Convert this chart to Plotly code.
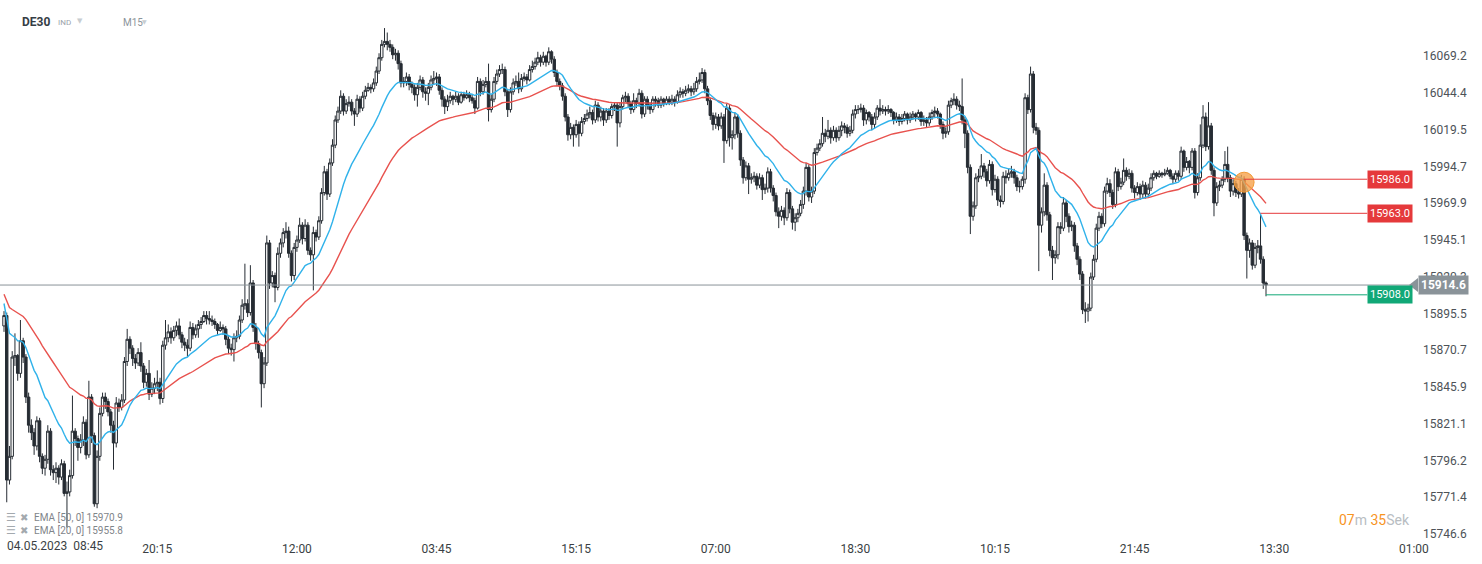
import plotly.graph_objects as go

# ---------------- data (DE30, M15) ----------------
first_open = 15887

closes = [
    # 0-82
    15894, 15783, 15799, 15866, 15867, 15855, 15877, 15866, 15839, 15820,
    15815, 15806, 15823, 15799, 15791, 15797, 15816, 15790, 15788, 15791,
    15785, 15794, 15774, 15775, 15786, 15816, 15811, 15805, 15810, 15822,
    15800, 15839, 15813, 15767, 15799, 15828, 15839, 15836, 15829, 15820,
    15808, 15835, 15832, 15837, 15863, 15878, 15872, 15865, 15862, 15869,
    15860, 15849, 15855, 15841, 15845, 15848, 15849, 15838, 15874, 15879,
    15883, 15879, 15884, 15887, 15881, 15876, 15874, 15872, 15886, 15881,
    15885, 15888, 15890, 15894, 15892, 15891, 15890, 15888, 15884, 15886,
    15885, 15878, 15872,
    # 83-163
    15871, 15879, 15880, 15891, 15901, 15902, 15896, 15916, 15886, 15875,
    15869, 15848, 15862, 15943, 15916, 15921, 15913, 15936, 15943, 15950,
    15951, 15936, 15921, 15940, 15945, 15955, 15946, 15955, 15938, 15935,
    15950, 15947, 15958, 15977, 15991, 15976, 15997, 16009, 16026, 16032,
    16042, 16032, 16037, 16038, 16032, 16030, 16040, 16034, 16042, 16046,
    16048, 16047, 16051, 16059, 16068, 16077, 16079, 16077, 16075, 16070,
    16071, 16064, 16051, 16052, 16055, 16050, 16048, 16043, 16048, 16053,
    16045, 16044, 16048, 16053, 16054, 16055, 16046, 16040, 16035, 16039,
    16042,
    # 164-243
    16040, 16042, 16038, 16043, 16041, 16043, 16041, 16039, 16034, 16052,
    16045, 16050, 16052, 16033, 16040, 16052, 16057, 16060, 16060, 16045,
    16033, 16045, 16051, 16052, 16047, 16054, 16055, 16053, 16060, 16062,
    16065, 16068, 16065, 16069, 16065, 16072, 16067, 16058, 16052, 16049,
    16042, 16028, 16016, 16021, 16016, 16023, 16017, 16025, 16027, 16030,
    16031, 16026, 16036, 16028, 16032, 16026, 16032, 16029, 16035, 16036,
    16024, 16035, 16041, 16042, 16037, 16033, 16039, 16037, 16044, 16030,
    16040, 16036, 16033, 16040, 16039, 16036, 16040, 16037, 16040, 16038,
    # 244-323
    16040, 16038, 16043, 16045, 16044, 16046, 16047, 16045, 16047, 16052,
    16053, 16058, 16047, 16039, 16029, 16023, 16028, 16022, 16028, 16012,
    16034, 16014, 16016, 16028, 16017, 15999, 15987, 15995, 15986, 15987,
    15988, 15982, 15987, 15979, 15980, 15991, 15980, 15975, 15964, 15961,
    15965, 15960, 15977, 15966, 15957, 15960, 15963, 15969, 15978, 15994,
    15974, 15978, 16004, 16007, 16010, 16017, 16015, 16019, 16014, 16019,
    16014, 16019, 16022, 16021, 16017, 16019, 16030, 16033, 16033, 16034,
    16026, 16031, 16028, 16023, 16028, 16034, 16032, 16033, 16032, 16033,
    # 324-403
    16031, 16026, 16028, 16025, 16027, 16030, 16026, 16028, 16030, 16028,
    16031, 16025, 16026, 16024, 16028, 16031, 16032, 16030, 16023, 16017,
    16018, 16036, 16039, 16040, 16036, 16035, 16026, 16017, 15994, 15961,
    15968, 15987, 15988, 15995, 15991, 15985, 15996, 15979, 15986, 15972,
    15971, 15988, 15987, 15990, 15991, 15987, 15981, 15981, 15986, 16041,
    16033, 16057, 16021, 16019, 15955, 15964, 15982, 15962, 15938, 15933,
    15935, 15954, 15953, 15970, 15961, 15954, 15955, 15941, 15932, 15922,
    15898, 15897, 15899, 15920, 15932, 15953, 15961, 15956, 15978, 15983,
    # 404-461
    15977, 15969, 15991, 15981, 15984, 15992, 15988, 15990, 15980, 15977,
    15981, 15976, 15982, 15976, 15980, 15987, 15990, 15988, 15990, 15989,
    15990, 15992, 15988, 15986, 15990, 15988, 16005, 15994, 15998, 15994,
    16005, 15977, 15987, 16009, 16028, 16008, 16022, 15992, 15970, 15981,
    15982, 15986, 15996, 15987, 15978, 15983, 15977, 15976, 15986, 15948,
    15938, 15943, 15928, 15940, 15941, 15932, 15916, 15914.6,
]

highs = [
    15897, 15896, 15806, 15870, 15882, 15868, 15891, 15879, 15868, 15842,
    15824, 15818, 15826, 15825, 15801, 15800, 15820, 15818, 15793, 15795,
    15793, 15797, 15796, 15782, 15790, 15840, 15818, 15813, 15814, 15826,
    15824, 15850, 15841, 15815, 15803, 15832, 15842, 15842, 15838, 15831,
    15823, 15839, 15838, 15841, 15866, 15885, 15880, 15874, 15868, 15872,
    15876, 15862, 15858, 15864, 15849, 15852, 15857, 15852, 15877, 15891,
    15888, 15886, 15887, 15890, 15892, 15883, 15879, 15878, 15890, 15889,
    15888, 15891, 15893, 15897, 15897, 15897, 15894, 15892, 15889, 15890,
    15888, 15887, 15880,
    15875, 15882, 15884, 15894, 15905, 15929, 15905, 15928, 15918, 15889,
    15877, 15871, 15866, 15948, 15945, 15924, 15923, 15940, 15946, 15953,
    15957, 15954, 15938, 15943, 15948, 15960, 15957, 15959, 15957, 15940,
    15954, 15952, 15961, 15980, 15995, 15993, 16000, 16013, 16029, 16035,
    16046, 16044, 16040, 16042, 16040, 16034, 16043, 16042, 16045, 16049,
    16051, 16050, 16054, 16062, 16071, 16080, 16088, 16085, 16080, 16077,
    16074, 16073, 16066, 16055, 16058, 16057, 16052, 16050, 16051, 16056,
    16055, 16048, 16051, 16056, 16059, 16058, 16057, 16048, 16042, 16043,
    16045,
    16043, 16045, 16044, 16045, 16045, 16046, 16045, 16043, 16041, 16055,
    16054, 16053, 16055, 16064, 16043, 16055, 16060, 16063, 16064, 16062,
    16047, 16048, 16054, 16056, 16058, 16057, 16058, 16057, 16063, 16066,
    16068, 16072, 16070, 16072, 16070, 16075, 16073, 16069, 16060, 16054,
    16051, 16044, 16030, 16024, 16023, 16026, 16025, 16028, 16030, 16033,
    16035, 16033, 16039, 16038, 16035, 16034, 16034, 16034, 16037, 16038,
    16038, 16038, 16043, 16045, 16044, 16039, 16044, 16041, 16047, 16046,
    16042, 16042, 16038, 16042, 16042, 16041, 16042, 16041, 16042, 16042,
    16043, 16042, 16046, 16048, 16047, 16049, 16050, 16049, 16051, 16055,
    16058, 16061, 16060, 16049, 16041, 16031, 16031, 16030, 16031, 16030,
    16037, 16036, 16019, 16031, 16030, 16019, 16001, 15998, 15997, 15990,
    15991, 15990, 15990, 15989, 15983, 15994, 15993, 15982, 15977, 15967,
    15968, 15967, 15980, 15979, 15968, 15963, 15966, 15972, 15981, 15997,
    15996, 15981, 16007, 16010, 16013, 16028, 16020, 16026, 16021, 16022,
    16021, 16022, 16025, 16024, 16023, 16022, 16033, 16036, 16036, 16037,
    16036, 16033, 16032, 16030, 16031, 16036, 16040, 16036, 16035, 16036,
    16034, 16032, 16031, 16030, 16030, 16032, 16031, 16031, 16032, 16031,
    16033, 16032, 16029, 16028, 16031, 16033, 16035, 16034, 16031, 16025,
    16021, 16039, 16041, 16044, 16042, 16039, 16054, 16028, 16019, 15996,
    15971, 15990, 15993, 16003, 15997, 15993, 15999, 15998, 15989, 15988,
    15975, 15991, 15992, 15993, 15995, 15993, 15989, 15985, 15988, 16044,
    16043, 16062, 16059, 16024, 16021, 15967, 15990, 15984, 15964, 15941,
    15938, 15957, 15957, 15974, 15972, 15963, 15958, 15957, 15943, 15934,
    15924, 15903, 15902, 15923, 15935, 15956, 15964, 15963, 15981, 15987,
    15986, 15979, 15994, 15993, 15987, 16000, 15994, 15993, 15992, 15982,
    15984, 15983, 15985, 15984, 15983, 15990, 15992, 15991, 15992, 15991,
    15993, 15994, 15993, 15990, 15992, 15992, 16008, 16006, 16001, 15999,
    16007, 16007, 15990, 16023, 16036, 16031, 16038, 16024, 15994, 15984,
    15985, 15988, 16005, 16008, 15989, 15986, 15985, 15980, 15989, 15988,
    15950, 15946, 15945, 15943, 15945, 15962, 15934, 15917,
]

lows = [
    15883, 15768, 15780, 15797, 15860, 15850, 15852, 15862, 15835, 15815,
    15810, 15800, 15803, 15795, 15787, 15786, 15794, 15786, 15783, 15781,
    15780, 15783, 15772, 15751, 15772, 15784, 15806, 15796, 15801, 15806,
    15797, 15798, 15808, 15765, 15764, 15796, 15826, 15831, 15826, 15815,
    15790, 15805, 15829, 15830, 15835, 15860, 15868, 15860, 15858, 15860,
    15856, 15845, 15846, 15837, 15839, 15841, 15843, 15834, 15835, 15871,
    15876, 15875, 15877, 15880, 15878, 15872, 15870, 15866, 15870, 15878,
    15879, 15879, 15885, 15889, 15888, 15888, 15887, 15885, 15881, 15883,
    15881, 15874, 15868,
    15867, 15863, 15876, 15878, 15889, 15898, 15893, 15894, 15883, 15871,
    15865, 15832, 15845, 15860, 15912, 15913, 15903, 15911, 15933, 15940,
    15946, 15933, 15917, 15918, 15937, 15943, 15942, 15944, 15935, 15931,
    15911, 15944, 15945, 15956, 15975, 15972, 15974, 15995, 16007, 16024,
    16030, 16029, 16030, 16035, 16029, 16022, 16028, 16031, 16032, 16040,
    16045, 16044, 16045, 16049, 16057, 16066, 16075, 16073, 16072, 16067,
    16066, 16060, 16048, 16048, 16049, 16046, 16044, 16039, 16035, 16046,
    16041, 16039, 16036, 16046, 16050, 16049, 16043, 16035, 16030, 16032,
    16037,
    16036, 16038, 16036, 16037, 16039, 16040, 16038, 16037, 16030, 16033,
    16042, 16043, 16048, 16025, 16031, 16038, 16050, 16055, 16057, 16042,
    16028, 16031, 16043, 16049, 16044, 16045, 16052, 16050, 16052, 16058,
    16060, 16063, 16062, 16063, 16062, 16063, 16064, 16055, 16049, 16046,
    16039, 16025, 16012, 16013, 16008, 16014, 16008, 16015, 16023, 16025,
    16027, 16023, 16024, 16025, 16025, 16022, 16024, 16026, 16027, 16032,
    16008, 16021, 16033, 16038, 16034, 16030, 16031, 16034, 16035, 16027,
    16028, 16033, 16030, 16031, 16035, 16034, 16034, 16035, 16036, 16036,
    16036, 16035, 16037, 16041, 16041, 16042, 16044, 16042, 16043, 16045,
    16050, 16051, 16044, 16036, 16026, 16019, 16020, 16019, 16020, 15997,
    16010, 16008, 16006, 16013, 16014, 15995, 15983, 15985, 15976, 15983,
    15984, 15979, 15980, 15972, 15976, 15977, 15977, 15971, 15961, 15953,
    15958, 15955, 15958, 15963, 15952, 15951, 15957, 15961, 15966, 15975,
    15971, 15970, 15976, 16002, 16005, 16008, 16011, 16013, 16010, 16012,
    16011, 16012, 16015, 16017, 16014, 16015, 16017, 16027, 16030, 16031,
    16022, 16023, 16025, 16019, 16020, 16026, 16029, 16030, 16029, 16030,
    16028, 16023, 16024, 16022, 16023, 16025, 16023, 16024, 16026, 16025,
    16026, 16022, 16022, 16021, 16022, 16026, 16028, 16027, 16020, 16013,
    16014, 16016, 16034, 16036, 16033, 16032, 16023, 16007, 15990, 15949,
    15958, 15966, 15984, 15986, 15987, 15981, 15983, 15975, 15977, 15968,
    15967, 15969, 15983, 15985, 15987, 15983, 15978, 15977, 15979, 15983,
    16030, 16031, 16017, 16016, 15924, 15950, 15961, 15958, 15934, 15918,
    15929, 15932, 15949, 15951, 15957, 15950, 15951, 15937, 15928, 15918,
    15895, 15889, 15890, 15897, 15918, 15930, 15951, 15953, 15954, 15976,
    15974, 15966, 15967, 15978, 15979, 15982, 15985, 15986, 15977, 15973,
    15975, 15972, 15973, 15973, 15974, 15978, 15985, 15986, 15987, 15987,
    15988, 15989, 15986, 15983, 15984, 15985, 15986, 15991, 15992, 15990,
    15992, 15973, 15975, 15985, 16007, 16005, 16006, 15989, 15961, 15968,
    15978, 15980, 15984, 15984, 15974, 15975, 15974, 15973, 15974, 15945,
    15919, 15933, 15925, 15926, 15936, 15929, 15912, 15907,
]

tick_bars = [56, 107, 158, 209, 260, 311, 362, 413, 464, 515]
tick_labels = ["20:15", "12:00", "03:45", "15:15", "07:00", "18:30",
               "10:15", "21:45", "13:30", "01:00"]
first_label = "04.05.2023&nbsp;&nbsp;08:45"

price_ticks = [16069.2, 16044.4, 16019.5, 15994.7, 15969.9, 15945.1, 15920.3,
               15895.5, 15870.7, 15845.9, 15821.1, 15796.2, 15771.4, 15746.6]

ema20_seed = 15903.0
ema50_seed = 15909.0
ema_legend = ["EMA [50, 0] 15970.9", "EMA [20, 0] 15955.8"]

last_price = 15914.6
order_levels = [15986.0, 15963.0, 15908.0]
order_bars = [453, 459, 461]
order_colors = ["#e5393b", "#e5393b", "#11a877"]
marker_bar = 453
marker_price = 15984.0

# ---------------- derived series ----------------
n = len(closes)
assert len(highs) == n and len(lows) == n, (n, len(highs), len(lows))
opens = [first_open] + closes[:-1]
highs = [max(h, o, c) for h, o, c in zip(highs, opens, closes)]
lows = [min(l, o, c) for l, o, c in zip(lows, opens, closes)]
xs = list(range(n))


def ema(values, period, seed):
    k = 2.0 / (period + 1)
    out, prev = [], seed
    for v in values:
        prev = prev + k * (v - prev)
        out.append(prev)
    return out


ema20 = ema(closes, 20, ema20_seed)
ema50 = ema(closes, 50, ema50_seed)

# ---------------- geometry helpers ----------------
W, H = 1482, 564
PL, PR, PT, PB = 0, 1416, 10, 540
BAR_PX = 1262 / (n - 1)
x_lo = -4 / BAR_PX
x_hi = x_lo + (PR - PL) / BAR_PX
Y_PER_PX = 0.6748
y_lo = 15746.6 - (PB - 534) * Y_PER_PX
y_hi = y_lo + (PB - PT) * Y_PER_PX


def pxx(p):
    return (p - PL) / (PR - PL)


def pyy(p):
    return (PB - p) / (PB - PT)


DARK = "#262c33"
FONT = "Roboto"

fig = go.Figure()
fig.add_trace(go.Candlestick(
    x=xs, open=opens, high=highs, low=lows, close=closes,
    increasing=dict(line=dict(color=DARK, width=1), fillcolor="#ffffff"),
    decreasing=dict(line=dict(color=DARK, width=1), fillcolor=DARK),
    whiskerwidth=0, showlegend=False, hoverinfo="skip",
))
fig.add_trace(go.Scatter(x=xs, y=ema50, mode="lines",
                         line=dict(color="#e8524e", width=1.4),
                         showlegend=False, hoverinfo="skip"))
fig.add_trace(go.Scatter(x=xs, y=ema20, mode="lines",
                         line=dict(color="#30b2ea", width=1.4),
                         showlegend=False, hoverinfo="skip"))
fig.add_trace(go.Scatter(x=[marker_bar], y=[marker_price], mode="markers",
                         marker=dict(size=20, color="rgba(246,160,72,0.78)",
                                     line=dict(color="#f29a35", width=1)),
                         showlegend=False, hoverinfo="skip"))

shapes = []
shapes.append(dict(type="line", xref="paper", yref="y", x0=0, x1=pxx(1410),
                   y0=last_price, y1=last_price,
                   line=dict(color="#8a9399", width=1)))
shapes.append(dict(type="path", xref="paper", yref="y",
                   path=f"M {pxx(1409)},{last_price} L {pxx(1418)},{last_price + 7 * Y_PER_PX} "
                        f"L {pxx(1418)},{last_price - 7 * Y_PER_PX} Z",
                   fillcolor="#8a9399", line=dict(width=0)))
annotations = []
label_x = 498
for lvl, b, col in zip(order_levels, order_bars, order_colors):
    shapes.append(dict(type="line", xref="x", yref="y", x0=b, x1=label_x,
                       y0=lvl, y1=lvl, line=dict(color=col, width=1)))
    annotations.append(dict(x=label_x, y=lvl, xref="x", yref="y", xanchor="left",
                            yanchor="middle", showarrow=False, text=f"{lvl:.1f}",
                            bgcolor=col, borderpad=2,
                            font=dict(family=FONT, size=11, color="white")))
annotations.append(dict(x=pxx(1418), y=last_price, xref="paper", yref="y",
                        xanchor="left", yanchor="middle", showarrow=False,
                        text=f"<b>{last_price:.1f}</b>", bgcolor="#8a9399",
                        borderpad=2, font=dict(family=FONT, size=12, color="white")))

annotations += [
    dict(x=pxx(20), y=pyy(22), text="<b>DE30</b>",
         font=dict(family=FONT, size=12, color="#363d45")),
    dict(x=pxx(56), y=pyy(23), text="IND",
         font=dict(family=FONT, size=8, color="#9aa2aa")),
    dict(x=pxx(75), y=pyy(21), text="▼",
         font=dict(family="DejaVu Sans", size=7, color="#c8cdd1")),
    dict(x=pxx(121), y=pyy(23), text="M15",
         font=dict(family=FONT, size=10, color="#8c949b")),
    dict(x=pxx(140), y=pyy(22), text="▼",
         font=dict(family="DejaVu Sans", size=6, color="#c8cdd1")),
]
for i, txt in enumerate(ema_legend):
    yy = pyy(517 + 13 * i)
    annotations += [
        dict(x=pxx(4), y=yy, text="☰", font=dict(family="DejaVu Sans", size=11, color="#a3a9ae")),
        dict(x=pxx(18), y=yy, text="✖", font=dict(family="DejaVu Sans", size=10, color="#a3a9ae")),
        dict(x=pxx(32), y=yy, text=txt, font=dict(family=FONT, size=10, color="#7f858a")),
    ]
annotations.append(dict(
    x=pxx(1412), y=pyy(520), xanchor="right",
    text='<span style="color:#f7941f">07</span><span style="color:#b8bdc2">m </span>'
         '<span style="color:#f7941f">35</span><span style="color:#b8bdc2">Sek</span>',
    font=dict(family=FONT, size=14)))
annotations.append(dict(x=pxx(5), y=pyy(546), text=first_label,
                        font=dict(family=FONT, size=12, color="#3a3f44")))

for a in annotations:
    a.setdefault("xref", "paper")
    a.setdefault("yref", "paper")
    a.setdefault("xanchor", "left")
    a.setdefault("yanchor", "middle")
    a.setdefault("showarrow", False)

fig.update_layout(
    width=W, height=H,
    margin=dict(l=PL, r=W - PR, t=PT, b=H - PB, pad=0),
    paper_bgcolor="white", plot_bgcolor="white",
    font=dict(family=FONT, size=12, color="#3a3f44"),
    shapes=shapes, annotations=annotations, showlegend=False,
    boxgap=0.12, boxgroupgap=0.0,
    xaxis=dict(range=[x_lo, x_hi], tickvals=tick_bars, ticktext=tick_labels,
               showgrid=False, zeroline=False, showline=False, ticks="",
               rangeslider=dict(visible=False),
               tickfont=dict(family=FONT, size=12, color="#3a3f44")),
    yaxis=dict(range=[y_lo, y_hi], side="right", tickvals=price_ticks,
               ticktext=[f"{v:.1f}" for v in price_ticks],
               showgrid=False, zeroline=False, showline=False, ticks="",
               ticklabelstandoff=6,
               tickfont=dict(family=FONT, size=12, color="#4d5257")),
)

fig.write_html(
    "out.html",
    config={"displayModeBar": False},
    post_script="document.body.style.margin='0';document.body.style.overflow='hidden';",
)
